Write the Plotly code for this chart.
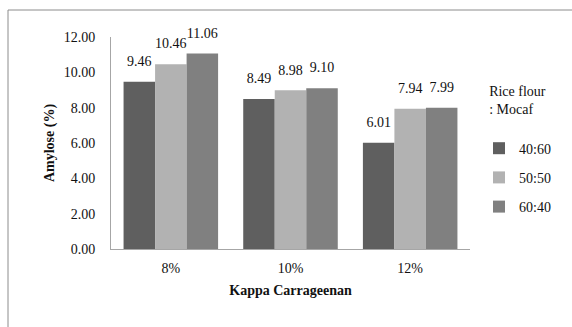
import plotly.graph_objects as go

# Amylose content by kappa carrageenan level and rice flour : mocaf ratio
categories = ["8%", "10%", "12%"]
ratios = ["40:60", "50:50", "60:40"]
amylose = {
    "40:60": [9.46, 8.49, 6.01],
    "50:50": [10.46, 8.98, 7.94],
    "60:40": [11.06, 9.10, 7.99],
}
colors = {"40:60": "#5f5f5f", "50:50": "#b2b2b2", "60:40": "#808080"}
y_ticks = [0, 2, 4, 6, 8, 10, 12]

FONT = "Liberation Serif, Times New Roman, DejaVu Serif, serif"
W, H = 572, 327
L, R, T, B = 111, 102, 37, 78  # plot area margins in px
pw, ph = W - L - R, H - T - B


def px_x(p):
    return (p - L) / pw


def px_y(p):
    return (H - B - p) / ph


fig = go.Figure()
for r in ratios:
    fig.add_trace(go.Bar(
        x=categories,
        y=amylose[r],
        name=r,
        legendgroup=r,
        offsetgroup=r,
        alignmentgroup="g",
        marker=dict(color=colors[r], line=dict(width=0)),
    ))
# value labels, aligned to each bar through its offset group
for r in ratios:
    fig.add_trace(go.Scatter(
        x=categories,
        y=amylose[r],
        offsetgroup=r,
        alignmentgroup="g",
        mode="markers+text",
        marker=dict(size=18, opacity=0),
        text=[f"{v:.2f}" for v in amylose[r]],
        textposition="top center",
        textfont=dict(family=FONT, size=14, color="#111111"),
        showlegend=False,
        hoverinfo="skip",
        cliponaxis=False,
    ))

fig.update_layout(
    width=W, height=H,
    margin=dict(l=L, r=R, t=T, b=B, autoexpand=False),
    paper_bgcolor="white", plot_bgcolor="white",
    barmode="group", bargap=0.21, bargroupgap=0,
    scattermode="group", scattergap=0.21,
    font=dict(family=FONT, size=14, color="#111111"),
    legend=dict(
        x=px_x(479), y=px_y(78), xanchor="left", yanchor="top",
        title=dict(text="Rice flour<br>: Mocaf<br> ", side="top center",
                   font=dict(family=FONT, size=14)),
        font=dict(family=FONT, size=14),
        tracegroupgap=8, traceorder="grouped",
        bgcolor="rgba(0,0,0,0)",
    ),
    xaxis=dict(
        showline=True, linecolor="#a6a6a6", linewidth=1,
        ticks="", ticklabelstandoff=6,
        title=dict(text="Kappa Carrageenan", standoff=10,
                   font=dict(family=FONT, size=14, weight="bold")),
        showgrid=False, automargin=False,
    ),
    yaxis=dict(
        range=[0, 12], tickvals=y_ticks, tickformat=".2f",
        showline=True, linecolor="#a6a6a6", linewidth=1,
        ticks="", ticklabelstandoff=12,
        title=dict(text="Amylose (%)", standoff=5,
                   font=dict(family=FONT, size=14, weight="bold")),
        showgrid=False, zeroline=False, automargin=False,
    ),
    shapes=[dict(
        type="rect", xref="paper", yref="paper",
        x0=px_x(8), x1=px_x(600), y0=px_y(360), y1=px_y(10),
        line=dict(color="#8c8c8c", width=1), fillcolor="rgba(0,0,0,0)",
        layer="below",
    )],
)

fig.write_html("out.html")
